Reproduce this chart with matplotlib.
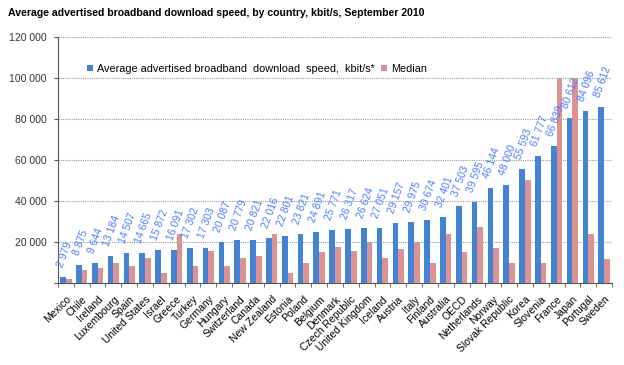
import matplotlib.pyplot as plt
import numpy as np

countries = ["Mexico", "Chile", "Ireland", "Luxembourg", "Spain", "United States",
             "Israel", "Greece", "Turkey", "Germany", "Hungary", "Switzerland",
             "Canada", "New Zealand", "Estonia", "Poland", "Belgium", "Denmark",
             "Czech Republic", "United Kingdom", "Iceland", "Austria", "Italy",
             "Finland", "Australia", "OECD", "Netherlands", "Norway",
             "Slovak Republic", "Korea", "Slovenia", "France", "Japan",
             "Portugal", "Sweden"]
average = [2979, 8875, 9644, 13184, 14507, 14665, 15872, 16091, 17302, 17303,
           20087, 20779, 20821, 22016, 22801, 23821, 24891, 25771, 26317, 26624,
           27051, 29157, 29975, 30674, 32401, 37503, 39595, 46144, 48000, 55593,
           61777, 66839, 80612, 84096, 85612]
median = [2100, 6300, 7100, 9800, 8100, 12100, 4800, 23700, 8100, 15800,
          8100, 12300, 13300, 23900, 4900, 9900, 15000, 17400, 15800, 20000,
          12000, 16400, 20000, 9900, 24000, 15000, 27300, 17150, 9800, 50200,
          9800, 100000, 100000, 24000, 11800]

plt.rcParams['font.family'] = ['Liberation Sans', 'DejaVu Sans']

fig = plt.figure(figsize=(6.24, 3.65), dpi=100)
ax = fig.add_axes([58 / 624, 1 - 283 / 365, 554 / 624, 246 / 365])

x = np.arange(len(countries))
w = 0.36
blue = "#4283d3"
pink = "#db9290"
ax.bar(x - w / 2, average, w, color=blue,
       label="Average advertised broadband  download  speed,  kbit/s*", zorder=3)
ax.bar(x + w / 2, median, w, color=pink, label="Median", zorder=3)

# value labels over the blue bars
for xi, v in zip(x, average):
    ax.annotate(f"{v:,}".replace(",", " "), (xi - w / 2, v), xytext=(1, 6),
                textcoords="offset points", rotation=70, ha="center", va="bottom",
                color="#4a7dff", fontsize=7.5)

ax.set_xlim(-0.5, len(countries) - 0.5)
ax.set_ylim(0, 120000)
yt = list(range(0, 120001, 20000))
ax.set_yticks(yt)
ax.set_yticklabels([f"{t:,}".replace(",", " ") if t else "" for t in yt],
                   fontsize=7.5, color="#333333")
ax.set_xticks(x)
ax.set_xticklabels(countries, rotation=45, ha="right", rotation_mode="anchor", fontsize=7.5)
ax.set_xticks(np.arange(-0.5, len(countries), 1), minor=True)
ax.tick_params(axis="x", which="major", length=0, pad=8)
ax.tick_params(axis="x", which="minor", length=3, color="#555555")
ax.tick_params(axis="y", length=3, color="#555555", pad=5)
ax.yaxis.grid(True, linestyle=(0, (1, 1)), color="#999999", linewidth=0.8, zorder=0)
for s in ["top", "right"]:
    ax.spines[s].set_visible(False)
for s in ["left", "bottom"]:
    ax.spines[s].set_color("#555555")

ax.legend(loc="upper left", bbox_to_anchor=(0.035, 0.93), ncol=2, frameon=False,
          fontsize=7.8, handlelength=0.5, handleheight=0.5, columnspacing=0.6,
          handletextpad=0.4)

fig.text(8 / 624, 1 - 13 / 365,
         "Average advertised broadband download speed, by country, kbit/s, September 2010",
         fontsize=7.6, fontweight="bold", va="center", ha="left")

fig.savefig("out.png", dpi=100)
